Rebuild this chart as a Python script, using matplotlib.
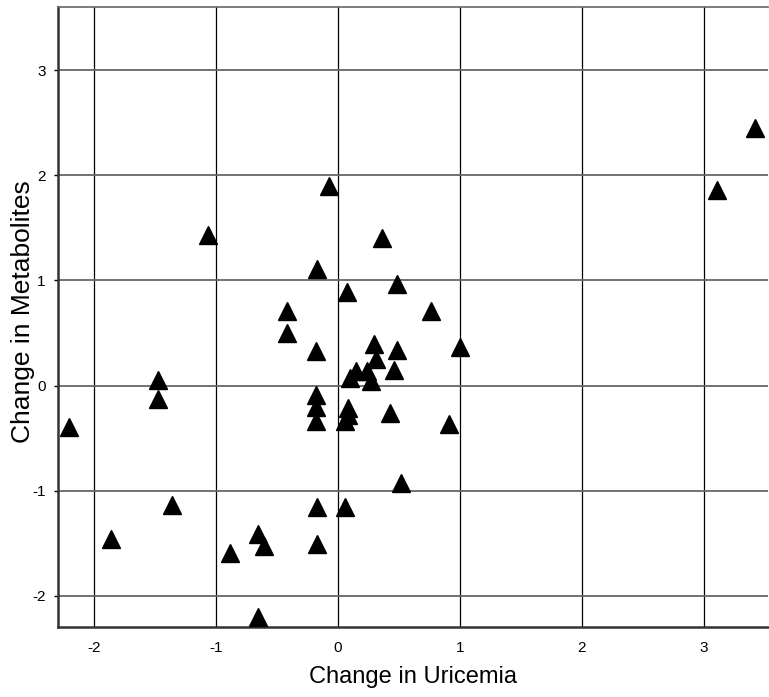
import matplotlib
matplotlib.use("Agg")
import matplotlib.pyplot as plt

plt.rcParams['font.family'] = ['Liberation Sans', 'DejaVu Sans']

uricemia = [3.42, 3.11, -0.07, -1.07, 0.36, -0.17, 0.07, 0.48, -0.42, 0.76,
            -0.42, -0.18, 0.295, 0.31, 0.48, 1.00, 0.46, 0.10, 0.15, 0.24,
            0.27, -1.48, -1.48, -0.18, -0.18, -0.18, 0.085, 0.06, 0.08, 0.43,
            0.91, -2.21, 0.52, -1.36, -0.17, 0.06, -1.86, -0.66, -0.61, -0.17,
            -0.89, -0.66]
metabolites = [2.45, 1.86, 1.90, 1.43, 1.40, 1.11, 0.89, 0.97, 0.71, 0.71,
               0.50, 0.33, 0.40, 0.25, 0.34, 0.37, 0.15, 0.07, 0.14, 0.14,
               0.04, 0.057, -0.13, -0.09, -0.20, -0.34, -0.21, -0.34, -0.28, -0.26,
               -0.37, -0.39, -0.93, -1.14, -1.16, -1.16, -1.46, -1.41, -1.53, -1.51,
               -1.59, -2.20]

xticks = [-2, -1, 0, 1, 2, 3]
yticks = [-2, -1, 0, 1, 2, 3]

fig = plt.figure(figsize=(7.69, 6.97), dpi=100)
ax = fig.add_axes([0.0758, 0.1009, 0.9232, 0.8886])

for v in xticks:
    ax.axvline(v, color='black', lw=0.9, zorder=1)
for v in yticks:
    ax.axhline(v, color='#666666', lw=1.3, zorder=1)

ax.plot(uricemia, metabolites, linestyle='none', marker='^', markersize=13,
        color='black', zorder=3, clip_on=True)

ax.set_xlim(-2.295, 3.53)
ax.set_ylim(-2.295, 3.60)
ax.set_xticks(xticks)
ax.set_yticks(yticks)
ax.set_xticklabels([str(t) for t in xticks])
ax.set_yticklabels([str(t) for t in yticks])
ax.tick_params(axis='x', length=0, pad=10, labelsize=11)
ax.tick_params(axis='y', length=3, width=1, pad=6, labelsize=11)

for s in ['left', 'bottom']:
    ax.spines[s].set_color('#333333')
    ax.spines[s].set_linewidth(1.8)
ax.spines['top'].set_color('#666666')
ax.spines['top'].set_linewidth(1.2)
ax.spines['right'].set_visible(False)

ax.set_xlabel('Change in Uricemia', fontsize=17, va='center')
ax.xaxis.set_label_coords(0.5, -0.082)
ax.set_ylabel('Change in Metabolites', fontsize=19, va='center')
ax.yaxis.set_label_coords(-0.0497, 0.508)

fig.savefig('out.png', dpi=100)
